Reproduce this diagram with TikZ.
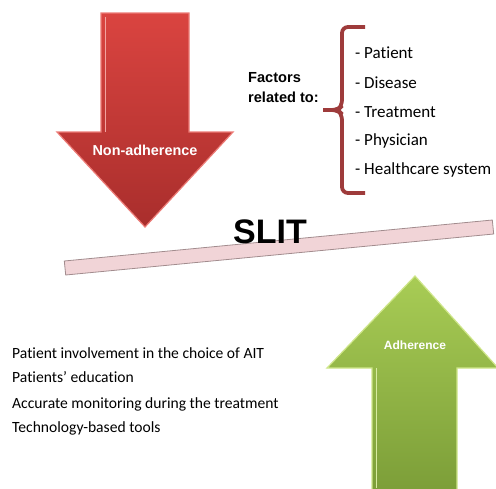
\documentclass[tikz,border=0pt]{standalone}
\usepackage{fontspec}
\setmainfont{Carlito}[Ligatures={NoCommon,TeX}]
\newfontfamily\headfont{Liberation Sans}
\usepackage{xcolor}
\definecolor{redtop}{HTML}{DA4440}
\definecolor{redbot}{HTML}{A92E2C}
\definecolor{redrim}{HTML}{EC7B76}
\definecolor{greentop}{HTML}{A8CC55}
\definecolor{greenbot}{HTML}{7C9E38}
\definecolor{greenrim}{HTML}{CFE68A}
\definecolor{bracered}{HTML}{9E3B3B}
\definecolor{beampink}{HTML}{F1D4D7}
\definecolor{beamedge}{HTML}{A28C8E}

\begin{document}
\begin{tikzpicture}[x=1pt, y=-1pt,
    arrowlabel/.style={font=\headfont\bfseries, text=white, anchor=base},
    factor/.style={font=\fontsize{17}{19}\selectfont, anchor=base west, inner sep=0pt},
    action/.style={font=\fontsize{15.6}{18}\selectfont, anchor=base west, inner sep=0pt}]
    \useasboundingbox (0,0) rectangle (496,488);

    % Non-adherence arrow (pointing down)
    \draw[redrim, line width=1.2pt, top color=redtop, bottom color=redbot]
        (101,13) -- (189,13) -- (189,132) -- (233,132) -- (145,227)
        -- (57,132) -- (101,132) -- cycle;
    \draw[redrim!70!white, line width=0.8pt] (105,17) -- (105,132);
    \node[arrowlabel, font=\headfont\bfseries\fontsize{14.4}{16}\selectfont]
        (nonadh) at (145,155) {Non-adherence};

    % Adherence arrow (pointing up)
    \begin{scope}
        \clip (0,0) rectangle (496,488);
        \draw[greenrim, line width=1.2pt, top color=greentop, bottom color=greenbot]
            (415,276) -- (498,368) -- (457,368) -- (457,492) -- (372,492)
            -- (372,368) -- (327,368) -- cycle;
        \draw[greenrim!80!white, line width=0.8pt] (376,368) -- (376,488);
    \end{scope}
    \node[arrowlabel, font=\headfont\bfseries\fontsize{12}{14}\selectfont]
        (adh) at (415,349) {Adherence};

    % Tilted beam
    \draw[beamedge, line width=0.8pt, fill=beampink]
        (64.3,261) -- (492.3,220) -- (493.7,234) -- (65.7,275) -- cycle;
    \node[font=\headfont\bfseries\fontsize{34}{36}\selectfont, anchor=base]
        (slit) at (270,243) {SLIT};

    % Factors and the brace
    \node[font=\headfont\bfseries\fontsize{14.6}{20}\selectfont, align=left,
        anchor=base west, inner sep=0pt] (factors) at (248,102)
        {Factors\\related to:};
    \draw[bracered, line width=3.8pt, rounded corners=6pt]
        (365,27) -- (342,27) -- (342,106) -- (338,110) -- (323,110);
    \draw[bracered, line width=3.8pt, rounded corners=6pt]
        (365,193) -- (342,193) -- (342,114) -- (338,110) -- (323,110);

    \node[factor] (patient) at (355,58) {- Patient};
    \node[factor] (disease) at (355,88) {- Disease};
    \node[factor] (treatment) at (355,117) {- Treatment};
    \node[factor] (physician) at (355,145) {- Physician};
    \node[factor] (system) at (355,174) {- Healthcare system};

    % What helps adherence
    \node[action] (involve) at (12,358) {Patient involvement in the choice of AIT};
    \node[action] (educ) at (12,382) {Patients’ education};
    \node[action] (monitor) at (12,408) {Accurate monitoring during the treatment};
    \node[action] (tools) at (12,432) {Technology-based tools};
\end{tikzpicture}
\end{document}
